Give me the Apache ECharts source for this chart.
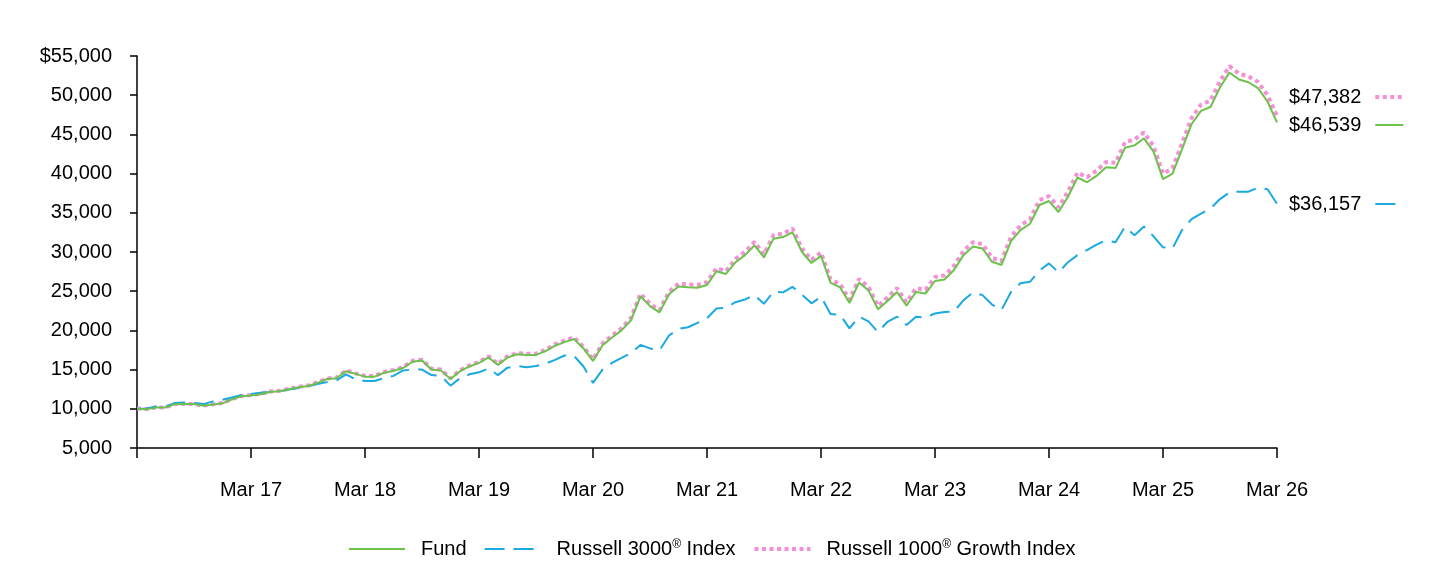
<!DOCTYPE html>
<html>
<head>
<meta charset="utf-8">
<script src="https://cdn.jsdelivr.net/npm/echarts@6/dist/echarts.min.js"></script>
<style>
html,body{margin:0;padding:0;background:#fff;}
#chart{width:1440px;height:564px;}
</style>
</head>
<body>
<div id="chart"></div>
<script>
// ---- Data (monthly, Mar 2016 .. Mar 2026) ----
const yearTickLabels = ['Mar 17','Mar 18','Mar 19','Mar 20','Mar 21','Mar 22','Mar 23','Mar 24','Mar 25','Mar 26'];
const monthNames = ['Mar','Apr','May','Jun','Jul','Aug','Sep','Oct','Nov','Dec','Jan','Feb'];
const categories = [];
for (let y = 16; y <= 26; y++) {
  for (let m = 0; m < 12; m++) {
    if (y === 26 && m > 0) break;
    const yy = m >= 10 ? y + 1 : y;
    categories.push(monthNames[m] + ' ' + yy);
  }
}

const fundName = 'Fund';
const r3000Name = 'Russell 3000® Index';
const r1000gName = 'Russell 1000® Growth Index';

const fundValues = [
  10000,9950,10150,10150,10600,10600,10600,10400,10550,10700,11200,11600,
  11700,11850,12150,12250,12500,12750,12900,13300,13800,13900,14800,14450,
  14100,14100,14600,14850,15200,16000,16150,15000,14900,13800,14800,15400,
  15850,16550,15600,16550,16950,16870,16870,17350,18050,18500,18900,17700,
  16100,18100,19100,20000,21300,24350,23100,22300,24600,25600,25500,25450,
  25800,27550,27200,28700,29600,30850,29300,31700,31900,32500,30000,28600,
  29500,26100,25500,23500,26100,25100,22700,23750,24900,23150,24900,24700,
  26300,26500,27700,29600,30700,30450,28750,28350,31400,32800,33600,36000,
  36500,35100,37050,39500,38900,39700,40800,40700,43300,43600,44500,42800,
  39300,40000,43100,46300,48000,48500,51000,52900,52000,51650,50900,49200,
  46539
];

const r3000Values = [
  10000,10050,10300,10250,10750,10800,10750,10600,10950,11150,11450,11750,
  11900,12050,12150,12250,12450,12650,12850,13150,13400,13600,14400,13750,
  13550,13550,13900,14200,14900,15000,15000,14300,14200,12950,13900,14400,
  14650,15150,14300,15250,15450,15300,15450,15750,16250,16800,16750,15400,
  13300,15000,15850,16500,17100,18150,17700,17450,19350,20200,20400,20950,
  21550,22800,22900,23600,23950,24500,23400,24950,24850,25550,24550,23450,
  24300,22100,22000,20250,21750,21150,19800,21100,21750,20700,21750,21650,
  22150,22350,22400,23850,24850,24500,23300,22600,24900,26000,26200,27650,
  28550,27400,28700,29600,30250,30950,31500,31250,33200,32150,33250,32000,
  30600,30450,32800,34200,34900,35550,36750,37600,37700,37700,38200,38000,
  36157
];

const r1000gValues = [
  10000,9980,10170,10180,10620,10630,10620,10420,10580,10730,11230,11640,
  11750,11900,12200,12310,12560,12810,12960,13370,13870,13980,14900,14520,
  14200,14190,14700,14960,15310,16120,16260,15100,15010,13880,14920,15520,
  15990,16700,15730,16700,17110,17030,17030,17520,18240,18700,19120,17880,
  16300,18330,19350,20270,21600,24680,23400,22590,24930,25960,25850,25800,
  26170,27930,27560,29100,30020,31290,29690,32150,32350,32980,30430,29010,
  29950,26520,25920,23930,26560,25550,23120,24200,25380,23600,25380,25190,
  26820,27020,28230,30150,31260,31010,29250,28850,31950,33380,34200,36620,
  37120,35690,37680,40130,39530,40350,41480,41380,44010,44340,45260,43520,
  39980,40690,43850,47080,48790,49300,51800,53700,52750,52400,51700,50000,
  47382
];

const yTickLabels = {55000:'$55,000',50000:'50,000',45000:'45,000',40000:'40,000',35000:'35,000',30000:'30,000',25000:'25,000',20000:'20,000',15000:'15,000',10000:'10,000',5000:'5,000'};

// ---- Styles ----
const C_FUND = '#6cc24a';
const C_R3000 = '#1ba9e1';
const C_R1000G = '#f48fd8';
const FONT = '"Liberation Sans", Arial, sans-serif';
const FS = 20;

const lastVal = {};
lastVal[fundName] = fundValues[fundValues.length - 1];
lastVal[r3000Name] = r3000Values[r3000Values.length - 1];
lastVal[r1000gName] = r1000gValues[r1000gValues.length - 1];
const money = v => '$' + v.toLocaleString('en-US');

function supName(name) {
  let s = '{sp|}' + name.replace('®', '{sup|®}');
  if (name === r3000Name) s += '{tail|}';
  return s;
}
const legendRich = {
  sp: {width: 11},
  tail: {width: 6},
  sup: {fontSize: 12, fontFamily: FONT, color: '#000', padding: [0, 0, 9, 0]}
};
const hiddenSymbol = {color: 'rgba(0,0,0,0)', borderColor: 'rgba(0,0,0,0)', borderWidth: 0, opacity: 0};
const legendLine = {width: 'inherit', type: 'inherit', color: 'inherit'};

function endLegend(name, top) {
  return {
    data: [name],
    left: 1289,
    top: top,
    padding: 0,
    orient: 'horizontal',
    align: 'right',
    itemWidth: 28,
    itemHeight: 14,
    selectedMode: false,
    itemStyle: hiddenSymbol,
    lineStyle: legendLine,
    formatter: n => money(lastVal[n]) + '{gap|}',
    textStyle: {fontSize: FS, fontFamily: FONT, color: '#000', rich: {gap: {width: 9}}}
  };
}

const chart = echarts.init(document.getElementById('chart'), null, {renderer: 'canvas'});
chart.setOption({
  animation: false,
  backgroundColor: '#fff',
  grid: {left: 137, right: 163, top: 56, bottom: 116, containLabel: false},
  legend: [
    {
      data: [fundName, r3000Name, r1000gName],
      bottom: 5,
      left: 348,
      padding: 0,
      itemWidth: 56,
      itemHeight: 14,
      itemGap: 17,
      selectedMode: false,
      itemStyle: hiddenSymbol,
      lineStyle: legendLine,
      formatter: supName,
      textStyle: {fontSize: FS, fontFamily: FONT, color: '#000', rich: legendRich}
    },
    endLegend(r1000gName, 87),
    endLegend(fundName, 115),
    endLegend(r3000Name, 194)
  ],
  xAxis: {
    type: 'category',
    data: categories,
    boundaryGap: false,
    axisLine: {lineStyle: {color: '#000', width: 1.5}},
    axisTick: {
      show: true, inside: false, length: 10,
      interval: (i) => i % 12 === 0,
      lineStyle: {color: '#000', width: 1.5}
    },
    axisLabel: {
      interval: (i) => i % 12 === 0 && i > 0,
      formatter: (v, i) => yearTickLabels[i / 12 - 1] || '',
      margin: 32,
      fontSize: FS, fontFamily: FONT, color: '#000'
    },
    splitLine: {show: false}
  },
  yAxis: {
    type: 'value',
    min: 5000, max: 55000, interval: 5000,
    axisLine: {show: true, lineStyle: {color: '#000', width: 1.5}},
    axisTick: {show: true, inside: false, length: 7, lineStyle: {color: '#000', width: 1.5}},
    axisLabel: {
      formatter: v => yTickLabels[v] || '',
      margin: 25,
      fontSize: FS, fontFamily: FONT, color: '#000'
    },
    splitLine: {show: false}
  },
  series: [
    {
      name: r1000gName, type: 'line', data: r1000gValues,
      showSymbol: false, symbol: 'none', z: 2,
      lineStyle: {color: C_R1000G, width: 4, type: [4, 3.5]},
      itemStyle: {color: C_R1000G}
    },
    {
      name: r3000Name, type: 'line', data: r3000Values,
      showSymbol: false, symbol: 'none', z: 3,
      lineStyle: {color: C_R3000, width: 2, type: [20, 9]},
      itemStyle: {color: C_R3000}
    },
    {
      name: fundName, type: 'line', data: fundValues,
      showSymbol: false, symbol: 'none', z: 4,
      lineStyle: {color: C_FUND, width: 2},
      itemStyle: {color: C_FUND}
    }
  ]
});
</script>
</body>
</html>
